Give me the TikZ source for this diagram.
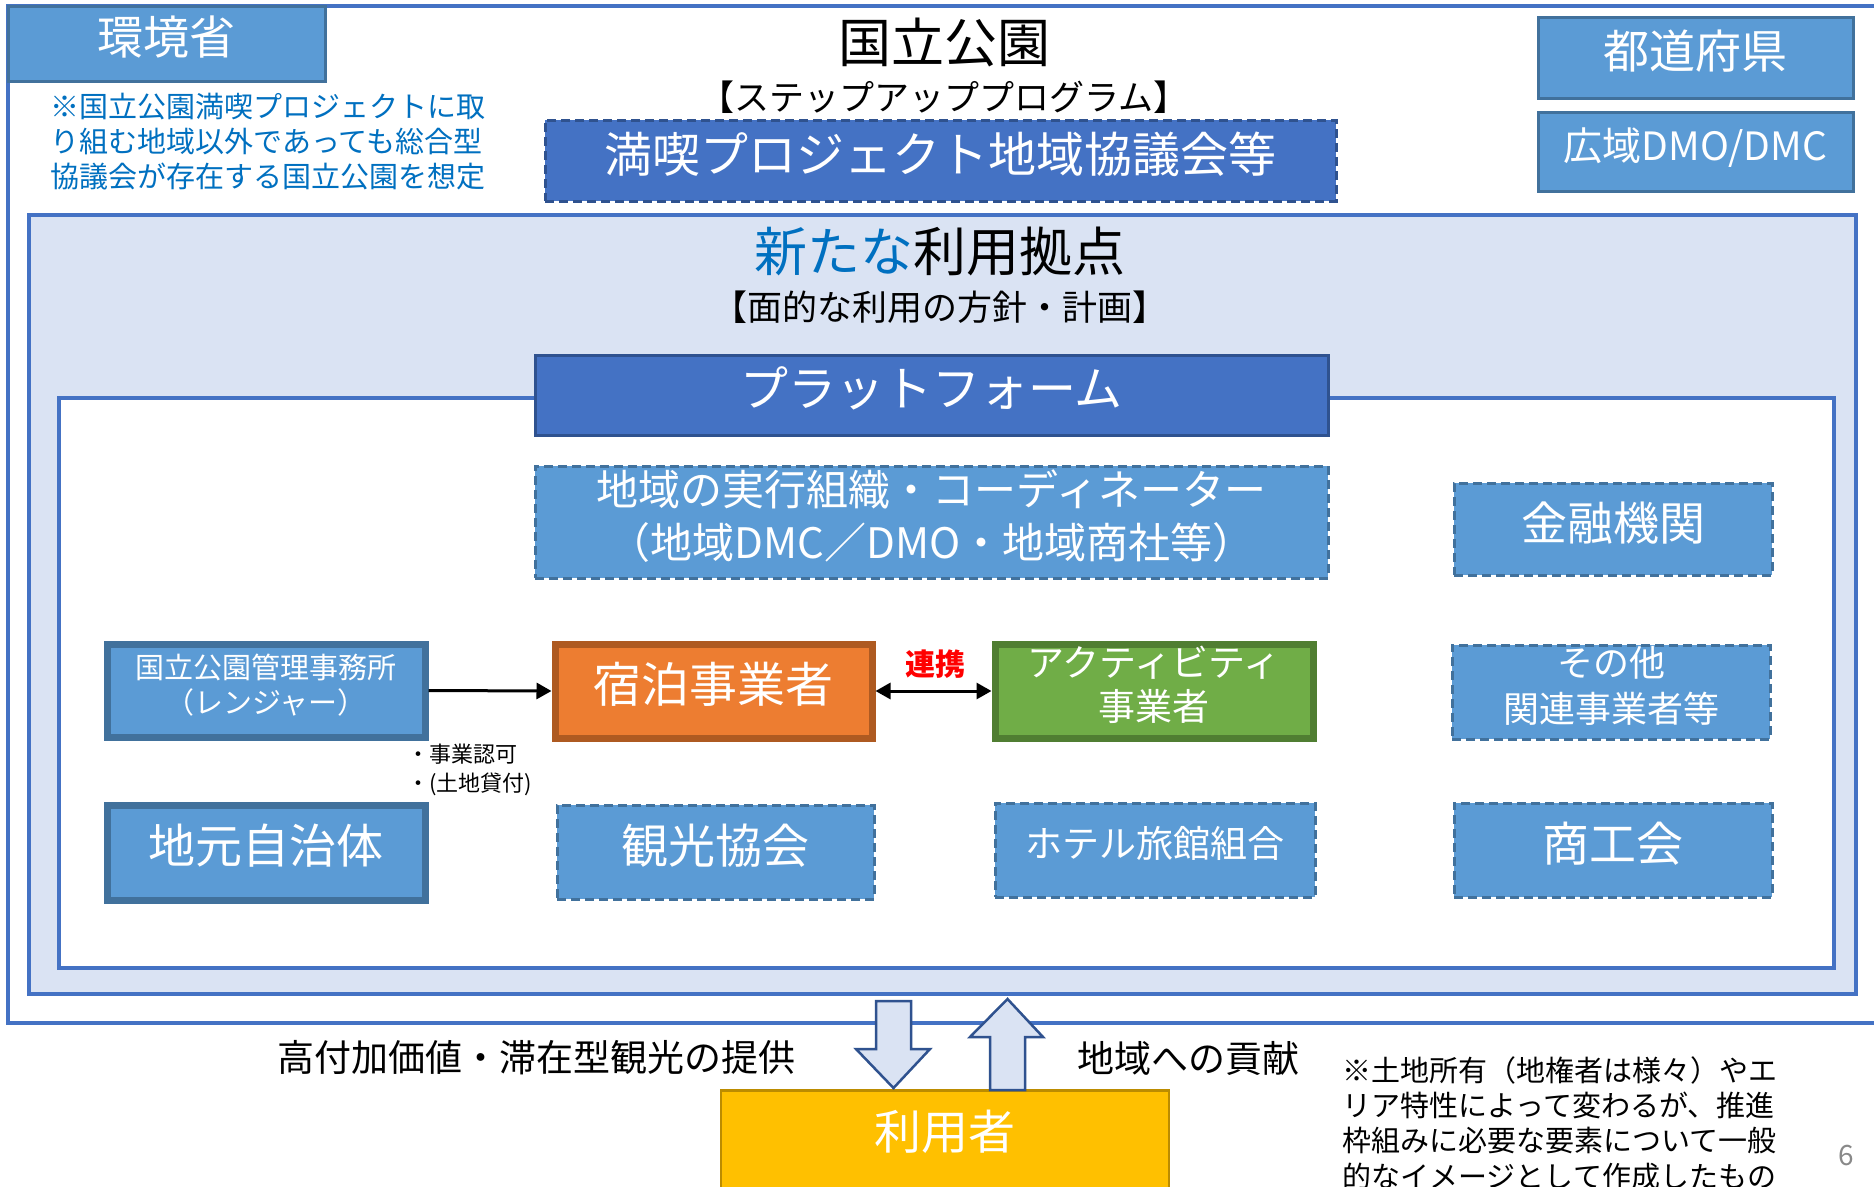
\documentclass[tikz,border=0pt]{standalone}
\usepackage{fontspec}
\setmainfont{Noto Sans CJK JP}
\usetikzlibrary{arrows.meta}
\definecolor{frameblue}{HTML}{4472C4}
\definecolor{boxfill}{HTML}{5B9BD5}
\definecolor{boxborder}{HTML}{41719C}
\definecolor{darkborder}{HTML}{2F528F}
\definecolor{lightfill}{HTML}{DAE3F3}
\definecolor{noteblue}{HTML}{0070C0}
\definecolor{orfill}{HTML}{ED7D31}
\definecolor{orborder}{HTML}{AE5A21}
\definecolor{grfill}{HTML}{70AD47}
\definecolor{grborder}{HTML}{507E32}
\definecolor{yefill}{HTML}{FFC000}
\definecolor{yeborder}{HTML}{BC8C00}
\definecolor{pagegray}{HTML}{898989}
\newcommand{\fsz}[2]{\fontsize{#1}{#2}\selectfont}
\begin{document}
\begin{tikzpicture}[x=1pt,y=-1pt,
  lift/.style={execute at end node={\vrule width 0pt height 0pt depth \dimexpr 0.12em+11pt\relax}},
  frame/.style={draw=frameblue,line width=4,inner sep=0},
  solidbox/.style={draw=boxborder,fill=boxfill,line width=3,text=white,inner sep=0,align=center,lift},
  thickbox/.style={draw=boxborder,fill=boxfill,line width=7,text=white,inner sep=0,align=center,lift},
  dashbox/.style={draw=boxborder,fill=boxfill,line width=3,dash pattern=on 9pt off 5pt,text=white,inner sep=0,align=center,lift},
  darkbox/.style={draw=darkborder,fill=frameblue,line width=3,text=white,inner sep=0,align=center,lift},
  plain/.style={inner sep=0,align=center},
  blockarrow/.style={draw=darkborder,fill=lightfill,line width=2.5,line join=miter},
  conn/.style={line width=3,black}
]
\useasboundingbox (0,0) rectangle (1874,1186);
\clip (0,0) rectangle (1874,1186);
\fill[white] (0,0) rectangle (1874,1186);

% outer frame (environment ministry)
\node[frame,minimum width=1882,minimum height=1017] (outer) at (949,514.5) {};
\node[solidbox,minimum width=317,minimum height=75,font=\fsz{46}{52}] (env) at (166.5,43.5) {環境省};

\node[plain,text=noteblue,align=left,font=\fsz{29}{35}] (note1) at (268,142)
  {※国立公園満喫プロジェクトに取\\り組む地域以外であっても総合型\\協議会が存在する国立公園を想定};

\node[plain,font=\fsz{53}{60}] (park) at (944,42) {国立公園};
\node[plain,font=\fsz{35}{40}] (step) at (944,97) {【ステップアッププログラム】};
\node[dashbox,draw=darkborder,fill=frameblue,minimum width=791,minimum height=81,font=\fsz{48}{56}] (council) at (940.5,160.5)
  {満喫プロジェクト地域協議会等};

\node[solidbox,minimum width=315,minimum height=81,font=\fsz{46}{52}] (pref) at (1695.5,57.5) {都道府県};
\node[solidbox,minimum width=315,minimum height=79,font=\fsz{39}{45}] (dmo) at (1695.5,151.5) {広域DMO/DMC};

% new use hub frame
\node[frame,fill=lightfill,minimum width=1827,minimum height=779] (hub) at (942.5,604.5) {};
\node[plain,font=\fsz{53}{60}] (hubtitle) at (940,251) {{\color{noteblue}新たな}利用拠点};
\node[plain,font=\fsz{35}{40}] (hubsub) at (940,307) {【面的な利用の方針・計画】};

% platform frame
\node[frame,fill=white,minimum width=1775,minimum height=570] (inner) at (946.5,683) {};
\node[darkbox,minimum width=793,minimum height=80,font=\fsz{48}{56}] (platform) at (931.5,395) {プラットフォーム};

\node[dashbox,minimum width=793,minimum height=112,font=\fsz{42}{53}] (coord) at (931.5,522)
  {地域の実行組織・コーディネーター\\（地域DMC／DMO・地域商社等）};
\node[dashbox,minimum width=318,minimum height=92,font=\fsz{46}{52}] (bank) at (1613,529) {金融機関};

\node[thickbox,minimum width=318,minimum height=93,font=\fsz{29}{35}] (ranger) at (266,690.5)
  {国立公園管理事務所\\（レンジャー）};
\node[solidbox,draw=orborder,fill=orfill,line width=7,minimum width=317,minimum height=94,font=\fsz{48}{56}] (lodge) at (713.5,691)
  {宿泊事業者};
\node[solidbox,draw=grborder,fill=grfill,line width=7,minimum width=318,minimum height=94,font=\fsz{37}{44}] (activity) at (1154,691)
  {アクティビティ\\事業者};
\node[dashbox,minimum width=318,minimum height=94,font=\fsz{36}{46}] (other) at (1611,692)
  {その他\\関連事業者等};

\node[thickbox,minimum width=318,minimum height=95,font=\fsz{47}{54}] (local) at (266,852.5) {地元自治体};
\node[dashbox,minimum width=317,minimum height=94,font=\fsz{47}{54}] (tourism) at (715.5,852) {観光協会};
\node[dashbox,minimum width=320,minimum height=94,font=\fsz{37}{44}] (hotel) at (1155,850) {ホテル旅館組合};
\node[dashbox,minimum width=318,minimum height=94,font=\fsz{47}{54}] (commerce) at (1613,850) {商工会};

% connectors
\draw[conn,-{Triangle[length=15pt,width=16pt]}] (ranger.east) -- (lodge.west);
\draw[conn,{Triangle[length=15pt,width=16pt]}-{Triangle[length=15pt,width=16pt]}] (lodge.east) -- (activity.west);
\node[plain,text=red,font=\fsz{30}{36}\bfseries] (renkei) at (935,664) {連携};
\node[plain,align=left,anchor=west,font=\fsz{22}{29}] (permit) at (407,769.5) {・事業認可\\・(土地貸付)};

% users
\node[solidbox,draw=yeborder,fill=yefill,line width=2.5,minimum width=448,minimum height=130,anchor=north] (user) at (945,1089) {};
\node[plain,text=white,font=\fsz{47}{54}] (usertext) at (945,1132) {利用者};

\draw[blockarrow] (876,1001) -- (911,1001) -- (911,1049) -- (930,1049) -- (893.5,1088) -- (856,1049) -- (876,1049) -- cycle;
\draw[blockarrow] (990,1090) -- (1025,1090) -- (1025,1037) -- (1043,1037) -- (1007.5,999) -- (970,1037) -- (990,1037) -- cycle;

\node[plain,font=\fsz{37}{44}] (provide) at (536,1058) {高付加価値・滞在型観光の提供};
\node[plain,font=\fsz{37}{44}] (contrib) at (1188,1058) {地域への貢献};

\node[plain,align=left,font=\fsz{29}{35.3}] (note2) at (1560,1123)
  {※土地所有（地権者は様々）やエ\\リア特性によって変わるが、推進\\枠組みに必要な要素について一般\\的なイメージとして作成したもの};
\node[plain,text=pagegray,font=\fsz{28}{32}] (page) at (1846,1156) {6};
\end{tikzpicture}
\end{document}
